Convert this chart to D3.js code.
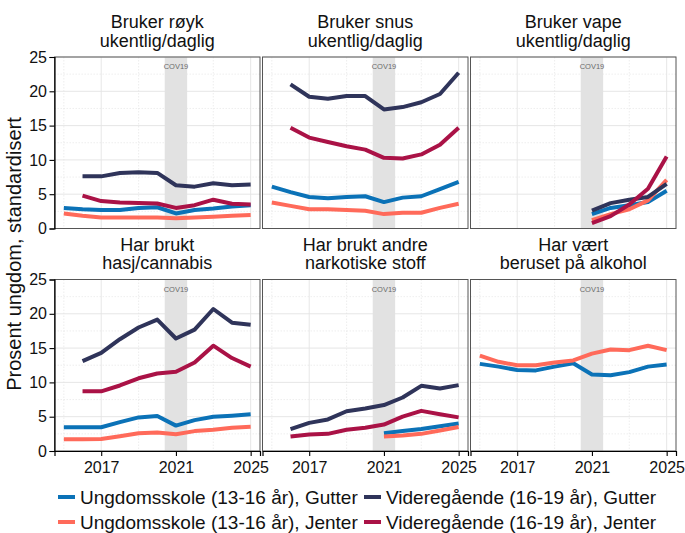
<!DOCTYPE html>
<html><head><meta charset="utf-8">
<script src="https://cdn.jsdelivr.net/npm/d3@7"></script>
<style>body{margin:0;background:#fff}svg{display:block;font-family:"Liberation Sans",Arial,sans-serif}</style>
</head><body><svg id="c" width="685" height="533"></svg>
<script>
const years = [2015,2016,2017,2018,2019,2020,2021,2022,2023,2024,2025];
const yearsLate = [2021,2022,2023,2024,2025];
const xTicks = [2017,2021,2025];
const xMinor = [2015,2019,2023];
const yTicks = [0,5,10,15,20,25];
const yMinor = [2.5,7.5,12.5,17.5,22.5];
const seriesNames = ["Ungdomsskole (13-16 år), Gutter","Ungdomsskole (13-16 år), Jenter","Videregående (16-19 år), Gutter","Videregående (16-19 år), Jenter"];
const seriesColors = ["#0B72B7","#FF6A5A","#2F345A","#AA1246"];
const panelTitles = [["Bruker røyk","ukentlig/daglig"],["Bruker snus","ukentlig/daglig"],["Bruker vape","ukentlig/daglig"],["Har brukt","hasj/cannabis"],["Har brukt andre","narkotiske stoff"],["Har vært","beruset på alkohol"]];

// røyk
const roykUSG = [3.0,2.8,2.7,2.7,3.0,3.1,2.2,2.7,2.9,3.2,3.4];
const roykUSJ = [2.2,1.85,1.6,1.6,1.6,1.6,1.5,1.6,1.7,1.85,1.95];
const roykVGG = [null,7.6,7.6,8.1,8.2,8.1,6.3,6.1,6.6,6.3,6.4];
const roykVGJ = [null,4.8,4.0,3.8,3.7,3.65,3.0,3.4,4.2,3.6,3.5];
// snus
const snusUSG = [6.1,5.3,4.6,4.4,4.6,4.7,3.85,4.5,4.7,5.75,6.8];
const snusUSJ = [3.8,3.3,2.8,2.8,2.7,2.6,2.1,2.3,2.3,3.0,3.6];
const snusVGG = [null,21.0,19.2,18.9,19.3,19.3,17.35,17.7,18.4,19.6,22.7];
const snusVGJ = [null,14.7,13.25,12.6,12.0,11.5,10.3,10.2,10.8,12.2,14.7];
// vape (2021-2025)
const vapeUSG = [2.1,3.0,3.4,3.85,5.5];
const vapeUSJ = [1.2,2.1,2.8,4.1,7.1];
const vapeVGG = [2.6,3.7,4.2,4.6,6.5];
const vapeVGJ = [0.8,1.8,3.5,5.8,10.5];
// hasj
const hasjUSG = [3.46,3.46,3.46,4.2,4.9,5.1,3.7,4.5,5.0,5.15,5.35];
const hasjUSJ = [1.7,1.7,1.75,2.15,2.6,2.7,2.45,2.9,3.1,3.4,3.55];
const hasjVGG = [null,13.1,14.3,16.3,18.0,19.15,16.4,17.7,20.7,18.7,18.4];
const hasjVGJ = [null,8.7,8.7,9.55,10.6,11.3,11.55,12.9,15.35,13.55,12.3];
// narkotiske (US 2021-2025)
const narkUSG = [2.6,2.9,3.2,3.6,4.0];
const narkUSJ = [2.1,2.25,2.5,3.0,3.5];
const narkVGG = [null,3.2,4.1,4.6,5.8,6.2,6.7,7.8,9.5,9.1,9.6];
const narkVGJ = [null,2.1,2.4,2.5,3.1,3.4,3.85,5.0,5.85,5.35,4.9];
// alkohol
const alkoUSG = [12.7,12.3,11.8,11.75,12.3,12.8,11.15,11.05,11.5,12.3,12.6];
const alkoUSJ = [13.9,13.0,12.5,12.5,12.9,13.2,14.2,14.8,14.7,15.35,14.7];

const covid = [2020.4, 2021.6];

const panelData = [
  [[years,roykUSG],[years,roykUSJ],[years,roykVGG],[years,roykVGJ]],
  [[years,snusUSG],[years,snusUSJ],[years,snusVGG],[years,snusVGJ]],
  [[yearsLate,vapeUSG],[yearsLate,vapeUSJ],[yearsLate,vapeVGG],[yearsLate,vapeVGJ]],
  [[years,hasjUSG],[years,hasjUSJ],[years,hasjVGG],[years,hasjVGJ]],
  [[yearsLate,narkUSG],[yearsLate,narkUSJ],[years,narkVGG],[years,narkVGJ]],
  [[years,alkoUSG],[years,alkoUSJ],null,null]
];

const svg = d3.select("#c");
const left = 54.5, pw = 205.5, gap = 2.5;
const rowTop = [57, 279.5], ph = 171.5;
const font = '"Liberation Sans",Arial,sans-serif';

panelData.forEach((pd, i) => {
  const col = i % 3, row = Math.floor(i / 3);
  const x0 = left + col * (pw + gap), y0 = rowTop[row];
  const x = d3.scaleLinear().domain([2014.5, 2025.5]).range([x0, x0 + pw]);
  const y = d3.scaleLinear().domain([0, 25]).range([y0 + ph, y0]);
  const g = svg.append("g");
  // grid
  g.selectAll(".ym").data(yMinor).join("line")
    .attr("x1", x0).attr("x2", x0 + pw).attr("y1", d => y(d)).attr("y2", d => y(d))
    .attr("stroke", "#e3e3e3").attr("stroke-width", 0.6).attr("stroke-dasharray", "1.5,1.5");
  g.selectAll(".xm").data(xMinor).join("line")
    .attr("y1", y0).attr("y2", y0 + ph).attr("x1", d => x(d)).attr("x2", d => x(d))
    .attr("stroke", "#e3e3e3").attr("stroke-width", 0.6).attr("stroke-dasharray", "1.5,1.5");
  g.selectAll(".yM").data(yTicks).join("line")
    .attr("x1", x0).attr("x2", x0 + pw).attr("y1", d => y(d)).attr("y2", d => y(d))
    .attr("stroke", "#e3e3e3").attr("stroke-width", 0.9);
  g.selectAll(".xM").data(xTicks).join("line")
    .attr("y1", y0).attr("y2", y0 + ph).attr("x1", d => x(d)).attr("x2", d => x(d))
    .attr("stroke", "#e3e3e3").attr("stroke-width", 0.9);
  // covid band
  g.append("rect").attr("x", x(covid[0])).attr("y", y0).attr("width", x(covid[1]) - x(covid[0])).attr("height", ph)
    .attr("fill", "#e2e2e2");
  g.append("text").attr("x", x(2021)).attr("y", y0 + 12.3).attr("text-anchor", "middle")
    .attr("font-size", 7.5).attr("fill", "#6a6a6a").text("COV19");
  // lines
  pd.forEach((s, k) => {
    if (!s) return;
    const pts = s[0].map((yr, j) => [yr, s[1][j]]);
    const line = d3.line().defined(d => d[1] != null).x(d => x(d[0])).y(d => y(d[1]));
    g.append("path").attr("d", line(pts)).attr("fill", "none")
      .attr("stroke", seriesColors[k]).attr("stroke-width", 4).attr("stroke-linejoin", "round");
  });
  // border
  g.append("rect").attr("x", x0).attr("y", y0).attr("width", pw).attr("height", ph)
    .attr("fill", "none").attr("stroke", "#555").attr("stroke-width", 1);
  // titles
  const tc = x0 + pw / 2;
  panelTitles[i].forEach((t, li) => {
    g.append("text").attr("x", tc).attr("y", y0 - 29 + li * 18.6).attr("text-anchor", "middle")
      .attr("font-size", 18).attr("fill", "#111").text(t);
  });
  // axes
  if (col === 0) {
    const ay = g.append("g").attr("transform", `translate(${x0},0)`)
      .call(d3.axisLeft(y).tickValues(yTicks).tickSize(5).tickPadding(2.5));
    ay.select(".domain").attr("stroke", "#000").attr("stroke-width", 1.2);
    ay.selectAll(".tick line").attr("stroke", "#000").attr("stroke-width", 1.1);
    ay.selectAll("text").attr("font-size", 16).attr("font-family", font).attr("fill", "#111");
  }
  if (row === 1) {
    const ax = g.append("g").attr("transform", `translate(0,${y0 + ph})`)
      .call(d3.axisBottom(x).tickValues(xTicks).tickFormat(d3.format("d")).tickSize(5).tickPadding(6));
    ax.select(".domain").attr("stroke", "#000").attr("stroke-width", 1.2);
    ax.selectAll(".tick line").attr("stroke", "#000").attr("stroke-width", 1.1);
    ax.selectAll("text").attr("font-size", 16).attr("font-family", font).attr("fill", "#111");
  }
});

// y axis title
svg.append("text").attr("transform", "translate(20.5,254) rotate(-90)").attr("text-anchor", "middle")
  .attr("font-size", 20).attr("fill", "#111").text("Prosent ungdom, standardisert");

// legend (column-wise order, 2 rows)
const legPos = [[58,497],[58,522],[364,497],[364,522]];
seriesNames.forEach((n, k) => {
  const [lx, ly] = legPos[k];
  svg.append("line").attr("x1", lx).attr("x2", lx + 17).attr("y1", ly).attr("y2", ly)
    .attr("stroke", seriesColors[k]).attr("stroke-width", 4);
  svg.append("text").attr("x", lx + 22).attr("y", ly + 7).attr("font-size", 19).attr("fill", "#111").text(n);
});
</script></body></html>
